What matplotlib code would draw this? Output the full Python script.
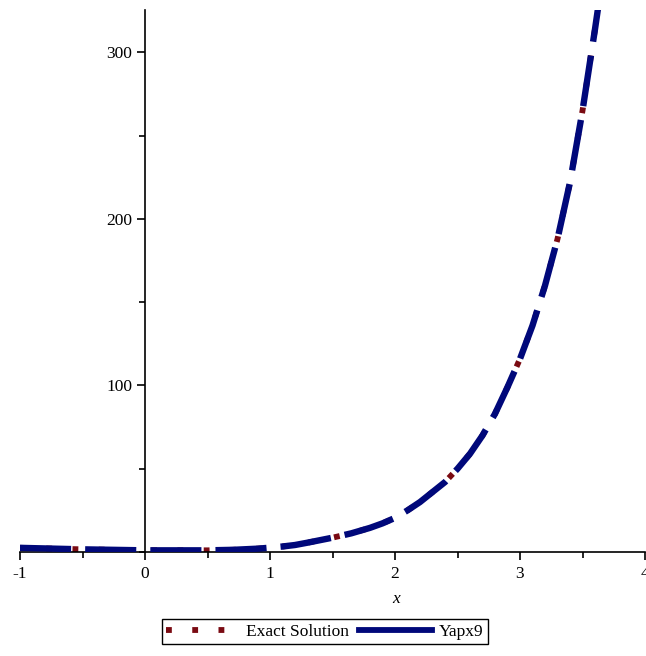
import numpy as np
import matplotlib
matplotlib.use("Agg")
import matplotlib.pyplot as plt
from matplotlib.lines import Line2D
from matplotlib.ticker import MultipleLocator

plt.rcParams['font.family'] = ['Liberation Serif', 'DejaVu Serif']

# values (both series overlap)
x_vals = [-1.0, -0.5, 0.0, 0.5, 0.7, 0.9, 1.0, 1.1, 1.2, 1.3, 1.5, 1.65, 1.8,
          1.9, 2.0, 2.1, 2.2, 2.3, 2.4, 2.5, 2.6, 2.7, 2.8, 2.9, 3.0, 3.1,
          3.2, 3.3, 3.4, 3.5, 3.6, 3.66]
exact_vals = [2.5, 1.6, 1.0, 1.0, 1.3, 2.0, 2.6, 3.3, 4.2, 5.6, 8.6, 11.2, 14.5,
              17.2, 20.5, 25.0, 30.0, 36.0, 42.0, 50.0, 59.0, 70.0, 83.0, 99.0, 116.0, 136.0,
              160.0, 188.0, 222.0, 265.0, 314.0, 345.0]
yapx9_vals = list(exact_vals)

series_labels = ['Exact Solution', 'Yapx9']
x_ticks = [-1, 0, 1, 2, 3, 4]
y_ticks = [100, 200, 300]

red = '#7a0a12'
blue = '#00087a'

fig = plt.figure(figsize=(6.46, 6.56), dpi=100)
ax = fig.add_axes([20 / 646, 104 / 656, 625 / 646, 542 / 656])

ax.plot(x_vals, exact_vals, color=red, lw=4.2, dashes=(1, 3.5), zorder=2)
ax.plot(x_vals, yapx9_vals, color=blue, lw=4.6, dashes=(8, 2.2), zorder=3)

ax.set_xlim(-1, 4)
ax.set_ylim(0, 325.5)

ax.spines['left'].set_position(('data', 0))
ax.spines['top'].set_visible(False)
ax.spines['right'].set_visible(False)
for s in ('left', 'bottom'):
    ax.spines[s].set_linewidth(1.2)

ax.set_xticks(x_ticks)
ax.set_xticklabels([str(v) for v in x_ticks])
ax.set_yticks(y_ticks)
ax.set_yticklabels([str(v) for v in y_ticks])
ax.xaxis.set_minor_locator(MultipleLocator(0.5))
ax.yaxis.set_minor_locator(MultipleLocator(50))
ax.tick_params(axis='both', which='major', length=6, width=1.2, labelsize=12.5, direction='out')
ax.tick_params(axis='both', which='minor', length=4, width=1.2, direction='out')
ax.tick_params(axis='y', pad=3)
ax.tick_params(axis='x', pad=4)

ax.set_xlabel('x', fontsize=12.5, style='italic')
ax.xaxis.set_label_coords(0.602, -0.072)

handles = [Line2D([], [], color=red, lw=4.2, dashes=(1, 3.5)),
           Line2D([], [], color=blue, lw=4.2)]
leg = fig.legend(handles, series_labels, loc='center', bbox_to_anchor=(0.503, 0.037),
                 ncol=2, fontsize=12.5, frameon=True, fancybox=False, edgecolor='black',
                 framealpha=1, handlelength=4.2, handletextpad=0.4, columnspacing=0.6,
                 borderpad=0.25, borderaxespad=0)
leg.get_frame().set_linewidth(1.0)

fig.savefig('out.png', dpi=100)
